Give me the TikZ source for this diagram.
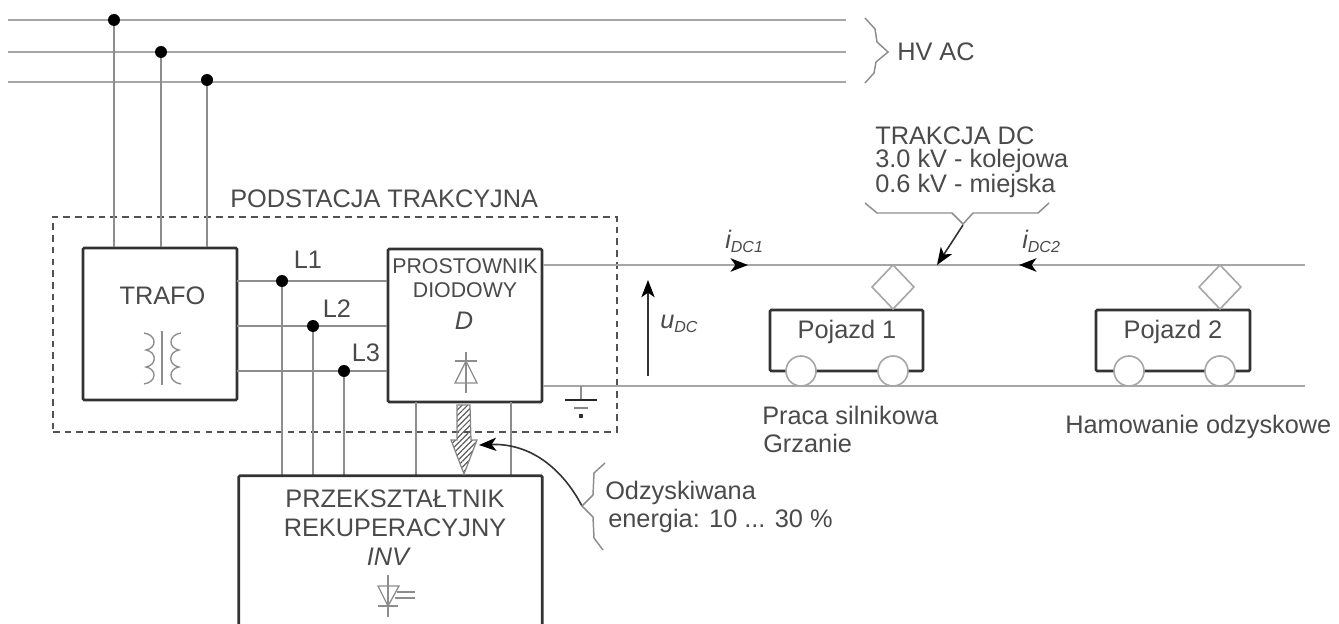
\documentclass[tikz,border=0pt]{standalone}
\usepackage{fontspec}
\setmainfont{Liberation Sans}
\usetikzlibrary{arrows.meta,patterns.meta}
\definecolor{txt}{HTML}{4A4A4A}
\definecolor{wire}{HTML}{A6A6A6}
\definecolor{dark}{HTML}{333333}
\tikzset{
  x=0.75pt,y=-0.75pt,
  wirel/.style={draw=wire,line width=1.7pt},
  thin wire/.style={draw=wire!85!black,line width=1.2pt},
  boxn/.style={draw=dark,line width=2pt,rounded corners=1pt,inner sep=0pt,fill=white},
  dotn/.style={circle,fill=black,inner sep=0pt,minimum size=9pt},
  lab/.style={text=txt,inner sep=0pt,font=\fontsize{19}{21}\selectfont},
  symb/.style={draw=wire!85!black,line width=1pt},
  brc/.style={draw=wire!85!black,line width=1.1pt},
  tipn/.style={-{Stealth[length=13pt,width=10pt,inset=3.5pt,color=black,fill=black]}},
  arr/.style={draw=dark,line width=1.2pt,tipn},
  veh wheel/.style={draw=wire,line width=1.2pt,fill=white,circle,inner sep=0pt,minimum size=30*0.75pt},
  pantograph/.style={draw=wire,line width=1.2pt},
}
\newcommand{\idc}[2]{\itshape #1\raisebox{-3pt}{\fontsize{12}{12}\selectfont #2}}
\begin{document}
\begin{tikzpicture}
\useasboundingbox (0,0) rectangle (1339,624);
% HV bus
\coordinate (h1a) at (8,20); \coordinate (h1b) at (846,20);
\coordinate (h2a) at (8,52); \coordinate (h2b) at (846,52);
\coordinate (h3a) at (8,82); \coordinate (h3b) at (846,82);
\draw[wirel] (h1a)--(h1b);
\draw[wirel] (h2a)--(h2b);
\draw[wirel] (h3a)--(h3b);
% substation outline
\node[draw=dark!85,line width=1.3pt,dash pattern=on 5pt off 3.8pt,inner sep=0pt,minimum width=564*0.75pt,minimum height=215*0.75pt] (sub) at (335,324.5) {};
% boxes
\node[boxn,minimum width=154*0.75pt,minimum height=152*0.75pt] (trafo) at (160,324) {};
\node[boxn,minimum width=154*0.75pt,minimum height=153*0.75pt] (rect) at (465,325.5) {};
\node[inner sep=0pt,minimum width=303*0.75pt,minimum height=148*0.75pt] (inv) at (390.5,550) {};
% dots on HV
\node[dotn] (d1) at (114,20) {};
\node[dotn] (d2) at (161,52) {};
\node[dotn] (d3) at (207,80) {};
\draw[thin wire] (d1) -- (d1 |- trafo.north);
\draw[thin wire] (d2) -- (d2 |- trafo.north);
\draw[thin wire] (d3) -- (d3 |- trafo.north);
% L lines
\coordinate (l1) at (237,281); \coordinate (l2) at (237,326); \coordinate (l3) at (237,371);
\draw[thin wire] (l1) -- (l1 -| rect.west);
\draw[thin wire] (l2) -- (l2 -| rect.west);
\draw[thin wire] (l3) -- (l3 -| rect.west);
\node[dotn] (j1) at (282,281) {};
\node[dotn] (j2) at (313,326) {};
\node[dotn] (j3) at (344,371) {};
\draw[thin wire] (j1) -- (j1 |- inv.north);
\draw[thin wire] (j2) -- (j2 |- inv.north);
\draw[thin wire] (j3) -- (j3 |- inv.north);
\coordinate (rv1) at (416,402); \coordinate (rv2) at (511,402);
\draw[thin wire] (rv1) -- (rv1 |- inv.north);
\draw[thin wire] (rv2) -- (rv2 |- inv.north);
\draw[boxn,fill=none] (inv.south west) -- (inv.north west) -- (inv.north east) -- (inv.south east);
\node[lab] at (162.5,296) (t1) {TRAFO};
\node[lab,font=\fontsize{16}{18}\selectfont] at (465,266) (t2) {PROSTOWNIK};
\node[lab,font=\fontsize{16}{18}\selectfont] at (465,290) (t3) {DIODOWY};
\node[lab,font=\fontsize{19}{21}\selectfont\itshape] at (464,321) (t4) {D};
\node[lab] at (395,499) (t5) {PRZEKSZTAŁTNIK};
\node[lab] at (395,528) (t6) {REKUPERACYJNY};
\node[lab,font=\fontsize{19}{21}\selectfont\itshape] at (388,557) (t7) {INV};
\node[lab] at (308,260) (t8) {L1};
\node[lab] at (337,309) (t9) {L2};
\node[lab] at (366,353) (t10) {L3};
\node[lab,anchor=west] at (230,199) (t11) {PODSTACJA TRAKCYJNA};
\node[lab,anchor=west] at (897,52) (t12) {HV AC};
% HV brace
\draw[brc] (865,18) -- (875,29) -- (877,42) -- (888,52) -- (876,62) -- (874,73) -- (865,83);
% transformer symbol
\draw[symb] (162,331) -- (162,385);
\draw[symb] (144,333) .. controls (157,335) and (157,348) .. (146,350) .. controls (157,352) and (157,365) .. (146,367) .. controls (157,369) and (157,382) .. (144,384);
\draw[symb] (181,333) .. controls (168,335) and (168,348) .. (179,350) .. controls (168,352) and (168,365) .. (179,367) .. controls (168,369) and (168,382) .. (181,384);
% diode
\draw[symb] (466,352) -- (466,393);
\draw[symb] (455,361) -- (477,361);
\draw[symb] (466,361) -- (455,383) -- (477,383) -- cycle;
% inverter valve
\draw[symb] (388,575) -- (388,617);
\draw[symb] (378,606) -- (398,606);
\draw[symb] (388,606) -- (378,586) -- (399,586) -- cycle;
\draw[symb] (397,592) -- (415,592);
\draw[symb] (395,598) -- (415,598);
% DC lines
\coordinate (dc1) at (1305,265);
\coordinate (dc2) at (1305,386);
\draw[wirel] (rect.east |- dc1) -- (dc1);
\draw[wirel] (rect.east |- dc2) -- (dc2);
% ground
\coordinate (g0) at (581,386); \coordinate (g1) at (581,400);
\draw[thin wire] (g0) -- (g1);
\draw[draw=black!85,line width=1.5pt] (565,400) -- (597,400);
\draw[draw=wire!80!black,line width=1.7pt] (574,408) -- (588,408);
\fill[dark] (579,414) rectangle (583,418);
% hatched arrow
\path[draw=wire!80!black,line width=.9pt,pattern={Lines[angle=45,distance=3pt,line width=.9pt]},pattern color=dark!80] (457,405) -- (470,405) -- (471,440) -- (477,440) -- (464,474) -- (451,440) -- (457,440) -- cycle;
% curved arrow
\coordinate (ca) at (582,506); \coordinate (cb) at (479,445);
\draw[arr] (ca) .. controls (562,468) and (530,443) .. (cb);
% recovered energy brace
\draw[brc] (605,463) -- (594,473) -- (593,495) -- (582,506) -- (593,517) -- (594,538) -- (603,550);
\node[lab,anchor=west] at (605,493) (t13) {Odzyskiwana};
\node[lab,anchor=west] at (608,521) (t14) {energia: 10 ... 30 \%};
% uDC
\coordinate (ua) at (648,376); \coordinate (ub) at (648,280);
\draw[arr,line width=1pt] (ua) -- (ub);
\node[lab,anchor=base west] at (660,328) (t15) {\idc{u}{DC}};
% currents
\coordinate (i1a) at (724,265); \coordinate (i1b) at (748,265);
\coordinate (i2a) at (1040,265); \coordinate (i2b) at (1019,265);
\draw[wirel,tipn] (i1a) -- (i1b);
\draw[wirel,tipn] (i2a) -- (i2b);
\node[lab,anchor=base west] at (725,248) (t16) {\idc{i}{DC1}};
\node[lab,anchor=base west] at (1022,248) (t17) {\idc{i}{DC2}};
% catenary brace
\draw[brc] (865,203) -- (877,213) -- (952,213) -- (963,224) -- (973,213) -- (1038,213) -- (1049,203);
\coordinate (cat) at (963,225); \coordinate (catt) at (937,265);
\draw[arr] (cat) -- (catt);
\node[lab,anchor=west,align=left,font=\fontsize{19}{17}\selectfont] at (875,162) (t18) {TRAKCJA DC\\3.0 kV - kolejowa\\0.6 kV - miejska};
% vehicle 1
\node[boxn,minimum width=153*0.75pt,minimum height=61*0.75pt] (v1) at (846.5,340.5) {};
\node[veh wheel] (w11) at (801,371) {};
\node[veh wheel] (w12) at (893,371) {};
\draw[pantograph] (893,265) -- (914,287) -- (893,309) -- (872,287) -- cycle;
\node[lab] at (847,332) (t21) {Pojazd 1};
% vehicle 2
\node[boxn,minimum width=154*0.75pt,minimum height=61*0.75pt] (v2) at (1173,340.5) {};
\node[veh wheel] (w21) at (1129,371) {};
\node[veh wheel] (w22) at (1220,371) {};
\draw[pantograph] (1220,265) -- (1241,287) -- (1220,309) -- (1199,287) -- cycle;
\node[lab] at (1173,332) (t22) {Pojazd 2};
\node[lab,anchor=west] at (762,415) (t23) {Praca silnikowa};
\node[lab,anchor=west] at (763,443) (t24) {Grzanie};
\node[lab,anchor=west] at (1065,427) (t25) {Hamowanie odzyskowe};
\end{tikzpicture}
\end{document}
